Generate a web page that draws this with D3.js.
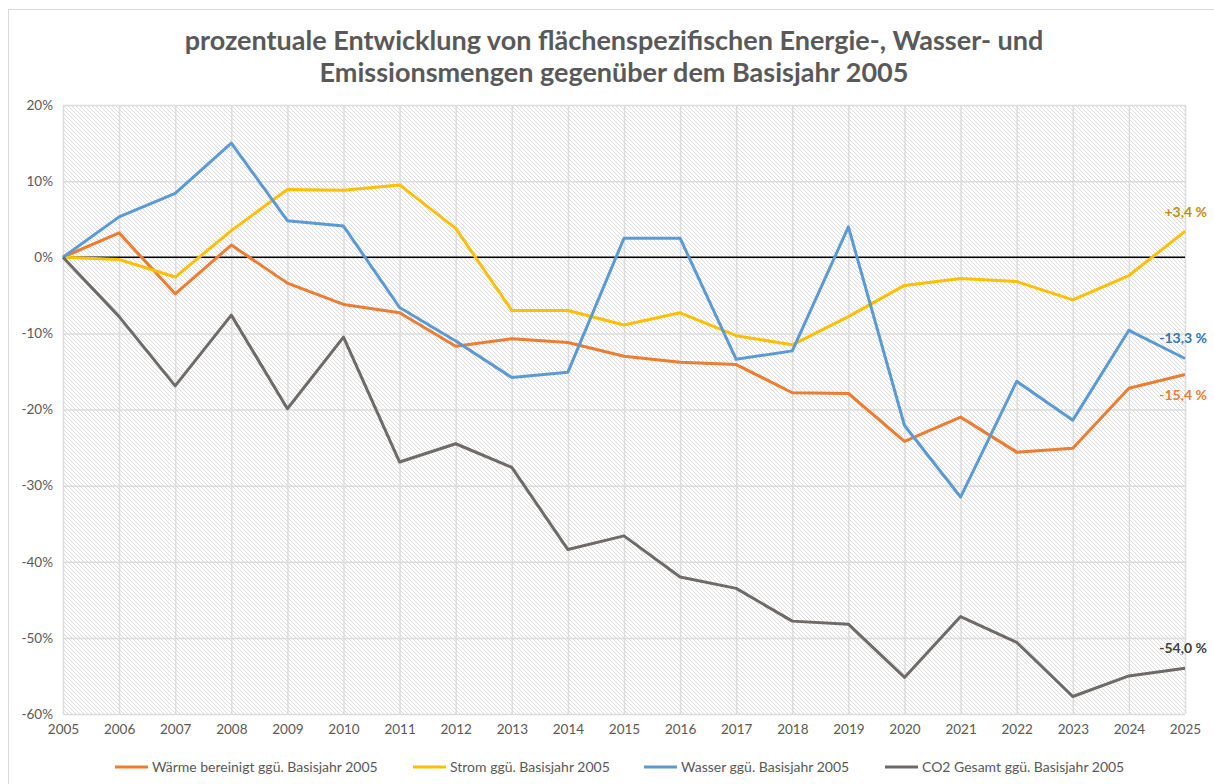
<!DOCTYPE html>
<html lang="de">
<head>
	<meta charset="utf-8">
	<title>Entwicklung flächenspezifischer Mengen</title>
	<script type="text/javascript" src="https://cdnjs.cloudflare.com/ajax/libs/d3/7.8.5/d3.min.js" charset="utf-8"></script>
	<style>
		body { margin: 0; background: white; }
		text { font-family: Lato, "Open Sans", sans-serif; }
	</style>
</head>
<body>
	<div id="chart">
		<script type="text/javascript">

			// Data (percent change vs. 2005)
			var years = [2005, 2006, 2007, 2008, 2009, 2010, 2011, 2012, 2013, 2014, 2015, 2016, 2017, 2018, 2019, 2020, 2021, 2022, 2023, 2024, 2025];
			var waerme = [0, 3.2, -4.8, 1.6, -3.4, -6.2, -7.3, -11.7, -10.7, -11.2, -13.0, -13.8, -14.1, -17.8, -17.9, -24.2, -21.0, -25.6, -25.1, -17.2, -15.4];
			var strom = [0, -0.3, -2.6, 3.5, 8.9, 8.8, 9.5, 3.8, -7.0, -7.0, -8.9, -7.3, -10.3, -11.5, -7.8, -3.7, -2.8, -3.2, -5.6, -2.4, 3.4];
			var wasser = [0, 5.3, 8.4, 15.0, 4.8, 4.1, -6.6, -11.0, -15.8, -15.1, 2.5, 2.5, -13.4, -12.3, 4.0, -22.1, -31.5, -16.3, -21.4, -9.6, -13.3];
			var co2 = [0, -7.8, -16.9, -7.6, -19.9, -10.5, -26.9, -24.5, -27.6, -38.4, -36.6, -42.0, -43.5, -47.8, -48.2, -55.2, -47.2, -50.6, -57.7, -55.0, -54.0];
			var seriesNames = ["Wärme bereinigt ggü. Basisjahr 2005", "Strom ggü. Basisjahr 2005", "Wasser ggü. Basisjahr 2005", "CO2 Gesamt ggü. Basisjahr 2005"];
			var endLabels = ["-15,4 %", "+3,4 %", "-13,3 %", "-54,0 %"];
			var yTicks = [20, 10, 0, -10, -20, -30, -40, -50, -60];
			var titleLines = ["prozentuale Entwicklung von flächenspezifischen Energie-, Wasser- und", "Emissionsmengen gegenüber dem Basisjahr 2005"];

			var colors = ["#ED7D31", "#FFC000", "#5B9BD5", "#6E6A67"];
			var labelColors = ["#ED7D31", "#BF9000", "#2E75B6", "#404040"];
			var labelDy = [26, -14, -15, -15];
			var allSeries = [waerme, strom, wasser, co2];

			var outer_width = 1214;
			var outer_height = 784;
			var margin = {top: 105, right: 29, bottom: 70, left: 63};
			var plot_width = outer_width - margin.left - margin.right;
			var plot_height = outer_height - margin.top - margin.bottom;

			var svg = d3.select("#chart")
						.append("svg")
						.attr("width", outer_width)
						.attr("height", outer_height);

			// hatch pattern for the plot area
			var defs = svg.append("defs");
			var pat = defs.append("pattern")
						.attr("id", "hatch")
						.attr("patternUnits", "userSpaceOnUse")
						.attr("width", 4)
						.attr("height", 4);
			pat.append("rect").attr("width", 4).attr("height", 4).attr("fill", "white");
			pat.append("path")
				.attr("d", "M-1,-1 L5,5 M-1,3 L1,5 M3,-1 L5,1")
				.attr("stroke", "#dadada")
				.attr("stroke-width", 1);

			// chart frame
			svg.append("rect")
				.attr("x", 8.5)
				.attr("y", 9.5)
				.attr("width", outer_width)
				.attr("height", outer_height)
				.attr("fill", "none")
				.attr("stroke", "#d9d9d9")
				.attr("stroke-width", 1);

			// title
			svg.append("text")
				.attr("x", 614)
				.attr("y", 50)
				.attr("text-anchor", "middle")
				.attr("fill", "#595959")
				.style("font-size", "27px")
				.style("font-weight", "bold")
				.selectAll("tspan")
				.data(titleLines)
				.enter()
					.append("tspan")
					.attr("x", 614)
					.attr("dy", function(d, i){ return i == 0 ? 0 : 32; })
					.text(function(d){ return d; });

			var g = svg.append("g")
						.attr("transform", "translate(" + margin.left + "," + margin.top + ")");

			var xScale = d3.scaleLinear()
							.domain([years[0], years[years.length - 1]])
							.range([0, plot_width]);

			var yScale = d3.scaleLinear()
							.domain([-60, 20])
							.range([plot_height, 0]);

			g.append("rect")
				.attr("width", plot_width)
				.attr("height", plot_height)
				.attr("fill", "url(#hatch)");

			// gridlines
			var xAxis = d3.axisBottom(xScale)
							.tickValues(years)
							.tickFormat(d3.format("d"))
							.tickSize(-plot_height)
							.tickPadding(10);
			var yAxis = d3.axisLeft(yScale)
							.tickValues(yTicks)
							.tickFormat(function(d){ return d + "%"; })
							.tickSize(-plot_width)
							.tickPadding(10);

			var gx = g.append("g")
						.attr("transform", "translate(0," + plot_height + ")")
						.call(xAxis);
			var gy = g.append("g").call(yAxis);

			[gx, gy].forEach(function(a){
				a.select(".domain").remove();
				a.selectAll(".tick line").attr("stroke", "#dcdcdc").attr("stroke-width", 1.5);
				a.selectAll(".tick text")
					.attr("fill", "#595959")
					.style("font-size", "13.5px")
					.style("font-family", "Lato, sans-serif");
			});

			// zero line
			g.append("line")
				.attr("x1", 0)
				.attr("x2", plot_width)
				.attr("y1", yScale(0))
				.attr("y2", yScale(0))
				.attr("stroke", "black")
				.attr("stroke-width", 1.5);

			var line = d3.line()
						.x(function(d, i){ return xScale(years[i]); })
						.y(function(d){ return yScale(d); });

			g.selectAll(".series")
				.data(allSeries)
				.enter()
					.append("path")
					.attr("class", "series")
					.attr("d", line)
					.attr("fill", "none")
					.attr("stroke", function(d, i){ return colors[i]; })
					.attr("stroke-width", 3)
					.attr("stroke-linejoin", "round");

			// end labels
			g.selectAll(".endlabel")
				.data(allSeries)
				.enter()
					.append("text")
					.attr("class", "endlabel")
					.attr("x", plot_width + 22)
					.attr("y", function(d, i){ return yScale(d[d.length - 1]) + labelDy[i]; })
					.attr("text-anchor", "end")
					.attr("fill", function(d, i){ return labelColors[i]; })
					.style("font-size", "14px")
					.style("font-weight", "bold")
					.text(function(d, i){ return endLabels[i]; });

			// legend
			var legendX = [115, 413, 644, 885];
			var legend = svg.selectAll(".legend")
							.data(seriesNames)
							.enter()
								.append("g")
								.attr("class", "legend")
								.attr("transform", function(d, i){ return "translate(" + legendX[i] + ",767)"; });
			legend.append("line")
				.attr("x1", 0)
				.attr("x2", 33)
				.attr("stroke", function(d, i){ return colors[i]; })
				.attr("stroke-width", 3);
			legend.append("text")
				.attr("x", 37)
				.attr("dy", "0.35em")
				.attr("fill", "#595959")
				.style("font-size", "14px")
				.text(function(d){ return d; });

		</script>
	</div>
</body>
</html>
